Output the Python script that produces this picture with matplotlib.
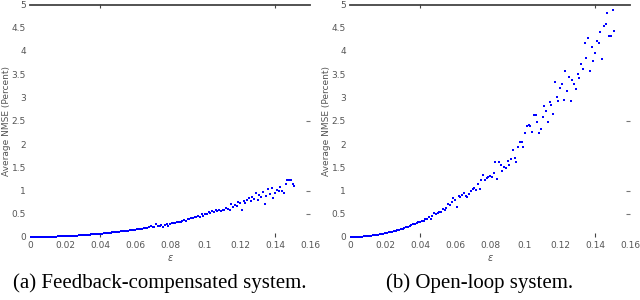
import numpy as np
import matplotlib.pyplot as plt

# epsilon grid (step 0.001) and read-off NMSE values
eps = np.round(np.arange(0, 0.1515, 0.001), 3)

nmse_feedback = [
    0.000, 0.000, 0.000, 0.001, 0.001, 0.001, 0.002, 0.002, 0.003, 0.004,
    0.004, 0.005, 0.006, 0.007, 0.009, 0.010, 0.011, 0.013, 0.014, 0.016,
    0.018, 0.019, 0.021, 0.023, 0.025, 0.028, 0.030, 0.032, 0.034, 0.037,
    0.040, 0.042, 0.045, 0.048, 0.051, 0.054, 0.057, 0.060, 0.064, 0.067,
    0.070, 0.074, 0.078, 0.082, 0.085, 0.089, 0.094, 0.097, 0.102, 0.106,
    0.110, 0.116, 0.119, 0.125, 0.128, 0.135, 0.139, 0.144, 0.148, 0.155,
    0.158, 0.166, 0.169, 0.175, 0.180, 0.187, 0.192, 0.196, 0.205, 0.240,
    0.217, 0.222, 0.270, 0.236, 0.240, 0.252, 0.220, 0.263, 0.290, 0.245,
    0.282, 0.295, 0.298, 0.310, 0.313, 0.326, 0.330, 0.340, 0.370, 0.350,
    0.380, 0.380, 0.410, 0.400, 0.430, 0.420, 0.450, 0.440, 0.490, 0.460,
    0.500, 0.490, 0.530, 0.510, 0.550, 0.530, 0.570, 0.550, 0.570, 0.560,
    0.580, 0.570, 0.620, 0.600, 0.580, 0.700, 0.640, 0.690, 0.670, 0.760,
    0.730, 0.570, 0.780, 0.740, 0.800, 0.830, 0.780, 0.870, 0.820, 0.940,
    0.800, 0.900, 0.860, 0.970, 0.720, 0.880, 1.030, 0.920, 1.060, 0.830,
    0.940, 1.010, 0.990, 1.070, 1.000, 0.940, 1.140, 1.230, 1.220, 1.220,
    1.150, 1.100,
]

nmse_openloop = [
    0.000, 0.000, 0.001, 0.002, 0.003, 0.005, 0.007, 0.010, 0.013, 0.017,
    0.020, 0.025, 0.029, 0.035, 0.040, 0.046, 0.052, 0.060, 0.066, 0.075,
    0.082, 0.091, 0.100, 0.108, 0.118, 0.130, 0.138, 0.150, 0.160, 0.175,
    0.182, 0.196, 0.212, 0.224, 0.240, 0.252, 0.272, 0.285, 0.300, 0.322,
    0.330, 0.350, 0.335, 0.380, 0.395, 0.420, 0.390, 0.455, 0.510, 0.490,
    0.520, 0.545, 0.540, 0.600, 0.590, 0.620, 0.720, 0.680, 0.760, 0.830,
    0.790, 0.650, 0.880, 0.850, 0.900, 0.940, 0.880, 0.850, 0.920, 1.000,
    1.040, 1.060, 1.020, 1.150, 1.030, 1.230, 1.330, 1.230, 1.260, 1.280,
    1.310, 1.300, 1.370, 1.610, 1.240, 1.610, 1.550, 1.430, 1.510, 1.480,
    1.640, 1.550, 1.670, 1.870, 1.700, 1.620, 1.940, 2.040, 2.040, 1.940,
    2.240, 2.380, 2.410, 2.390, 2.250, 2.620, 2.620, 2.480, 2.240, 2.320,
    2.590, 2.820, 2.720, 2.480, 2.900, 2.840, 2.640, 3.340, 3.020, 2.920,
    3.210, 3.300, 2.950, 3.560, 3.140, 3.440, 2.920, 3.380, 3.290, 3.190,
    3.510, 3.410, 3.710, 3.610, 4.170, 3.840, 4.280, 3.580, 4.080, 3.780,
    3.950, 4.220, 4.170, 4.410, 3.830, 4.540, 4.590, 4.820, 4.330, 4.330,
    4.890, 4.420,
]

xticks = [0, 0.02, 0.04, 0.06, 0.08, 0.1, 0.12, 0.14, 0.16]
xticklabels = ['0', '0.02', '0.04', '0.06', '0.08', '0.1', '0.12', '0.14', '0.16']
yticks = [0, 0.5, 1, 1.5, 2, 2.5, 3, 3.5, 4, 4.5, 5]
yticklabels = ['0', '0.5', '1', '1.5', '2', '2.5', '3', '3.5', '4', '4.5', '5']
captions = ['(a) Feedback-compensated system.', '(b) Open-loop system.']

grey = '#555555'
fig = plt.figure(figsize=(6.4, 3.0), dpi=100)

panels = [(30, nmse_feedback), (350, nmse_openloop)]
for (left_px, vals), cap in zip(panels, captions):
    ax = fig.add_axes([left_px / 640, 1 - 237 / 300, 280 / 640, 232.5 / 300])
    ax.plot(eps, vals, linestyle='none', marker='s', markersize=2.0,
            markeredgewidth=0, color='blue')
    ax.set_xlim(0, 0.16)
    ax.set_ylim(0, 5)
    ax.set_xticks(xticks)
    ax.set_xticklabels(xticklabels)
    ax.set_yticks(yticks)
    ax.set_yticklabels(yticklabels)
    ax.tick_params(labelsize=6.5, colors=grey, length=0, pad=3)

    # only the top frame line survives in the scan
    for side in ['left', 'right', 'bottom']:
        ax.spines[side].set_visible(False)
    ax.spines['top'].set_color('#444444')
    ax.spines['top'].set_linewidth(1.3)

    # the few tick marks that are still visible
    sec_r = ax.secondary_yaxis('right')
    sec_r.set_yticks([0.5, 1, 2.5])
    sec_r.set_yticklabels([])
    sec_r.spines['right'].set_visible(False)
    sec_r.tick_params(direction='in', length=3, width=0.8, colors='#777777')
    sec_t = ax.secondary_xaxis('top')
    sec_t.set_xticks([0.04, 0.14])
    sec_t.set_xticklabels([])
    sec_t.spines['top'].set_visible(False)
    sec_t.tick_params(direction='in', length=3, width=0.8, colors='#444444')
    sec_b = ax.secondary_xaxis('bottom')
    sec_b.set_xticks([0.04, 0.14])
    sec_b.set_xticklabels([])
    sec_b.spines['bottom'].set_visible(False)
    sec_b.tick_params(direction='in', length=3, width=0.8, colors='#444444')

    ax.set_xlabel(r'$\epsilon$', fontsize=7, color=grey, labelpad=2)
    ax.set_ylabel('Average NMSE (Percent)', fontsize=6.5, color=grey)
    ax.yaxis.set_label_coords(-19 / 280, 0.5)

    fig.text((left_px + 130) / 640, 1 - 283 / 300, cap,
             family='Liberation Serif', fontsize=15, ha='center', va='center')

fig.savefig('out.png', dpi=100)
